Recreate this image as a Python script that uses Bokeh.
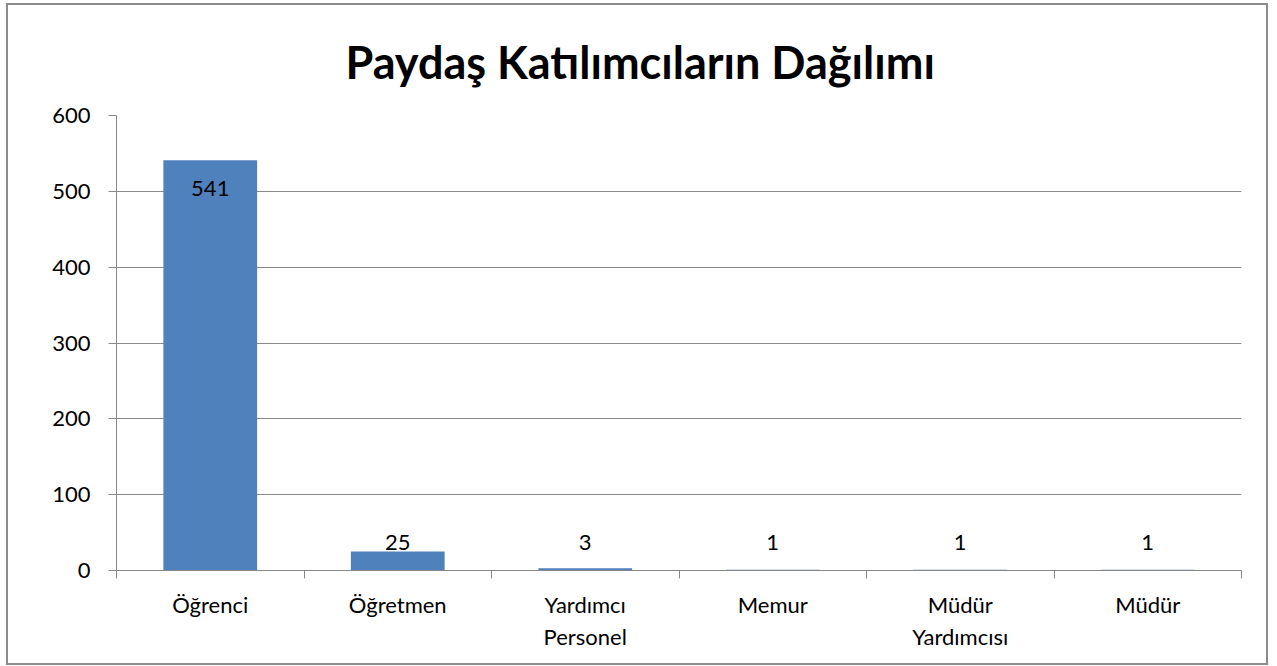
from bokeh.plotting import figure
from bokeh.models import (ColumnDataSource, Range1d, FixedTicker, Title)
from bokeh.core.properties import value
from bokeh.embed import file_html
from bokeh.resources import INLINE

categories = ["Öğrenci", "Öğretmen", "Yardımcı Personel", "Memur", "Müdür Yardımcısı", "Müdür"]
display_labels = ["Öğrenci", "Öğretmen", "Yardımcı\nPersonel", "Memur", "Müdür\nYardımcısı", "Müdür"]
values = [541, 25, 3, 1, 1, 1]
y_ticks = [0, 100, 200, 300, 400, 500, 600]

FONT = "Lato"
GRAY = "#888888"
BAR = "#4F81BD"

n = len(categories)
centers = [i + 0.5 for i in range(n)]
bounds = list(range(n + 1))

p = figure(width=1262, height=662, x_range=Range1d(0, n),
           y_range=Range1d(0, 600), output_backend="svg", toolbar_location=None,
           min_border_left=108, min_border_right=29,
           min_border_top=110, min_border_bottom=97)
p.styles = {"border": "2px solid #8c8c8c", "margin": "3px 0 0 6px"}
p.outline_line_color = None
p.xgrid.visible = False
p.ygrid.grid_line_color = GRAY
p.ygrid.ticker = FixedTicker(ticks=y_ticks)

src = ColumnDataSource(dict(x=centers, val=values))
p.vbar(x="x", top="val", width=0.5, source=src, color=BAR, line_color=None)

# data labels
inside = [i for i, v in enumerate(values) if v > 300]
outside = [i for i, v in enumerate(values) if v <= 300]
src_in = ColumnDataSource(dict(x=[centers[i] for i in inside],
                               val=[values[i] for i in inside],
                               txt=[str(values[i]) for i in inside]))
src_out = ColumnDataSource(dict(x=[centers[i] for i in outside],
                                val=[max(values[i], 37) for i in outside],
                                txt=[str(values[i]) for i in outside]))
p.text(x="x", y="val", text="txt", source=src_in, text_align="center",
       text_baseline="top", y_offset=21, text_font=value(FONT),
       text_font_size="22px", text_color="black")
p.text(x="x", y="val", text="txt", source=src_out, text_align="center",
       text_baseline="alphabetic", y_offset=0, text_font=value(FONT),
       text_font_size="22px", text_color="black")

# y axis
ya = p.yaxis[0]
ya.ticker = FixedTicker(ticks=y_ticks)
ya.axis_line_color = GRAY
ya.major_tick_line_color = GRAY
ya.major_tick_out = 8
ya.major_tick_in = 0
ya.minor_tick_line_color = None
ya.major_label_standoff = 18
ya.major_label_text_font = FONT
ya.major_label_text_font_size = "22px"
ya.major_label_text_color = "black"

# x axis: names at centres, tick marks at category boundaries
xa = p.xaxis[0]
xa.ticker = FixedTicker(ticks=centers, minor_ticks=bounds)
xa.axis_line_color = GRAY
xa.major_tick_line_color = None
xa.major_tick_out = 0
xa.major_tick_in = 0
xa.minor_tick_line_color = GRAY
xa.minor_tick_out = 8
xa.minor_tick_in = 0
xa.major_label_standoff = 12
xa.major_label_text_font = FONT
xa.major_label_text_font_size = "22px"
xa.major_label_text_color = "black"
xa.major_label_overrides = {c: lbl for c, lbl in zip(centers, display_labels)}

title = Title(text="Paydaş Katılımcıların Dağılımı", align="left",
              text_font=FONT, text_font_size="45px", text_font_style="bold",
              text_color="black", offset=229, standoff=54)
p.add_layout(title, "above")

open("out.html", "w").write(file_html(p, INLINE))
